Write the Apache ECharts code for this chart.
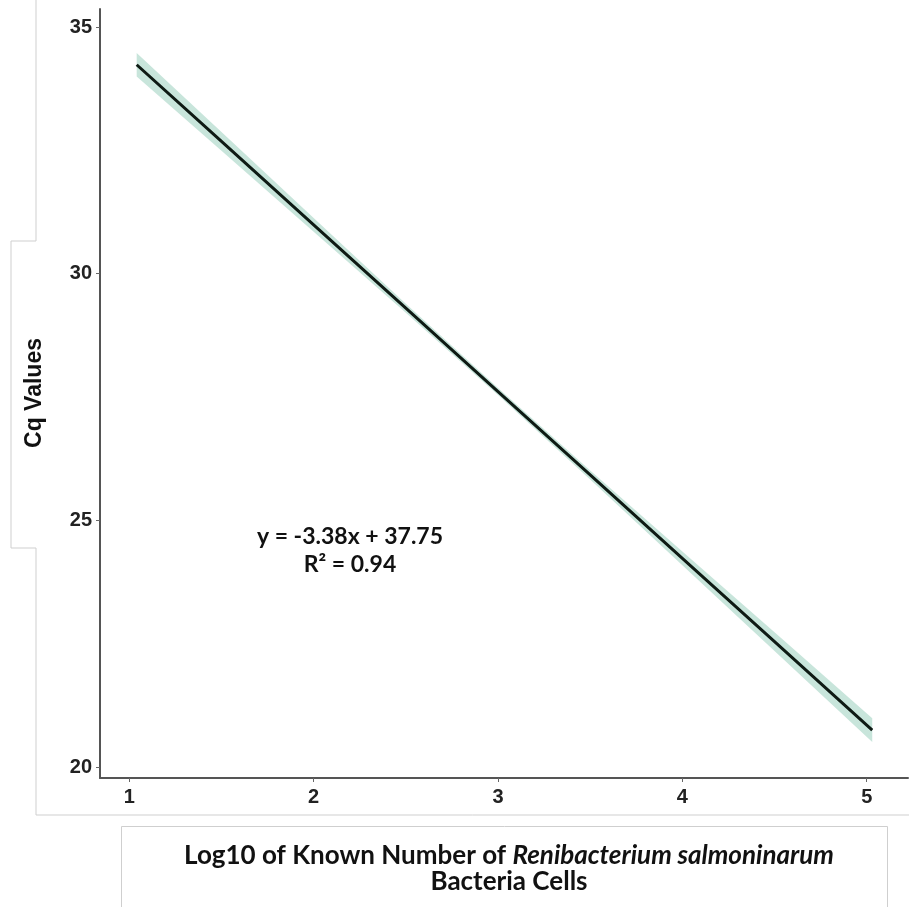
<!DOCTYPE html>
<html>
<head>
<meta charset="utf-8">
<script src="https://cdn.jsdelivr.net/npm/echarts@6/dist/echarts.min.js"></script>
<style>
  html, body { margin: 0; padding: 0; background: #fff; }
  #chart { width: 909px; height: 907px; }
</style>
</head>
<body>
<div id="chart"></div>
<script>
// Standard curve: Cq vs log10 cell count, fitted line y = slope * x + intercept
const slope = -3.38;
const intercept = 37.75;
const rSquared = 0.94;

// x positions along the fit where the confidence ribbon is sampled
const bandX = [1.04, 1.5, 2, 2.5, 3, 3.5, 4, 4.5, 5.03];
// half-width of the confidence ribbon (Cq units) at each bandX
const bandHalf = [0.24, 0.19, 0.14, 0.09, 0.07, 0.09, 0.14, 0.19, 0.24];

// axis ticks
const xTicks = [1, 2, 3, 4, 5];
const yTicks = [20, 25, 30, 35];

const fit = x => slope * x + intercept;
const fitLine = bandX.map(x => [x, fit(x)]);
// one row per sample: x, lower bound, upper bound
const ribbon = bandX.map((x, i) => [x, fit(x) - bandHalf[i], fit(x) + bandHalf[i]]);

const chart = echarts.init(document.getElementById('chart'));

const tickFont = {
  fontFamily: 'Liberation Sans, Arial, sans-serif',
  fontWeight: 'bold',
  fontSize: 20,
  color: '#222'
};

// the ribbon is drawn as one polygon: upper edge left to right, lower edge back
function renderRibbon(params, api) {
  if (params.dataIndex !== 0) return null;
  const upper = ribbon.map(r => api.coord([r[0], r[2]]));
  const lowerPts = ribbon.map(r => api.coord([r[0], r[1]])).reverse();
  return {
    type: 'polygon',
    shape: { points: upper.concat(lowerPts) },
    style: { fill: '#c8e5db', stroke: null }
  };
}

chart.setOption({
  animation: false,
  backgroundColor: '#fff',
  grid: { left: 100, right: 1, top: 9, bottom: 129 },
  xAxis: {
    type: 'value',
    min: 0.841,
    max: 5.224,
    splitLine: { show: false },
    axisLine: { show: true, lineStyle: { color: '#555', width: 2 } },
    axisTick: { show: true, length: 4, customValues: xTicks, lineStyle: { color: '#666', width: 1 } },
    axisLabel: Object.assign({ margin: 9, customValues: xTicks }, tickFont)
  },
  yAxis: {
    type: 'value',
    min: 19.777,
    max: 35.365,
    splitLine: { show: false },
    axisLine: { show: true, lineStyle: { color: '#555', width: 2 } },
    axisTick: { show: true, length: 4, customValues: yTicks, lineStyle: { color: '#666', width: 1 } },
    axisLabel: Object.assign({ margin: 8, customValues: yTicks }, tickFont)
  },
  series: [
    {
      type: 'custom',
      data: ribbon,
      encode: { x: 0, y: [1, 2] },
      renderItem: renderRibbon,
      silent: true,
      z: 1
    },
    {
      type: 'line',
      data: fitLine,
      symbol: 'none',
      lineStyle: { color: '#0e1a14', width: 3 },
      silent: true,
      z: 2
    }
  ],
  graphic: [
    // panel outlines
    {
      type: 'polyline',
      shape: { points: [[36, 0], [36, 241], [11, 241], [11, 548], [36, 548], [36, 815], [909, 815]] },
      style: { stroke: '#cfcfcf', lineWidth: 1, fill: null }
    },
    {
      type: 'rect',
      shape: { x: 121.5, y: 826.5, width: 766, height: 100 },
      style: { stroke: '#cfcfcf', lineWidth: 1, fill: null }
    },
    // y-axis title
    {
      type: 'text',
      x: 35, y: 393,
      rotation: Math.PI / 2,
      style: {
        text: 'Cq Values',
        font: 'bold 23px "Liberation Sans", Arial, sans-serif',
        fill: '#111',
        align: 'center',
        verticalAlign: 'middle'
      }
    },
    // x-axis title
    {
      type: 'text',
      x: 509, y: 856,
      style: {
        text: '{b|Log10 of Known Number of }{i|Renibacterium salmoninarum}',
        align: 'center',
        verticalAlign: 'middle',
        rich: {
          b: { font: 'bold 26px Lato, sans-serif', fill: '#111' },
          i: { font: 'italic bold 26px Lato, sans-serif', fill: '#111' }
        }
      }
    },
    {
      type: 'text',
      x: 509, y: 882,
      style: {
        text: 'Bacteria Cells',
        font: 'bold 26px Lato, sans-serif',
        fill: '#111',
        align: 'center',
        verticalAlign: 'middle'
      }
    },
    // regression equation
    {
      type: 'text',
      x: 350, y: 537,
      style: {
        text: 'y = ' + slope.toFixed(2) + 'x + ' + intercept.toFixed(2),
        font: 'bold 23px Lato, sans-serif',
        fill: '#111',
        align: 'center',
        verticalAlign: 'middle'
      }
    },
    {
      type: 'text',
      x: 350, y: 565,
      style: {
        text: 'R² = ' + rSquared.toFixed(2),
        font: 'bold 23px Lato, sans-serif',
        fill: '#111',
        align: 'center',
        verticalAlign: 'middle'
      }
    }
  ]
});
</script>
</body>
</html>
